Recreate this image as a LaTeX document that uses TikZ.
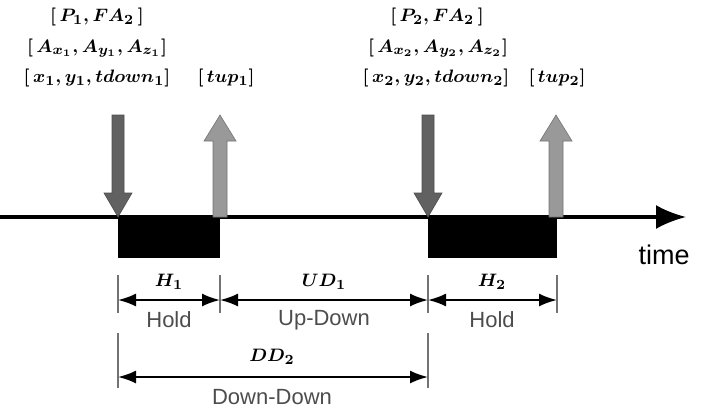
\documentclass[tikz,border=0pt]{standalone}
\usepackage{fontspec}
\setmainfont{Liberation Sans}
\usetikzlibrary{arrows.meta}
\begin{document}
\begin{tikzpicture}[x=0.5pt,y=-0.5pt,
  lbl/.style={font=\fontsize{11}{13}\selectfont, text=black!70, inner sep=0pt},
  mlbl/.style={font=\fontsize{9.5}{11}\selectfont\boldmath, inner sep=0pt},
  keybox/.style={fill=black, draw=none},
  dnarrow/.style={fill=black!62, draw=black!70, line width=0.3pt},
  uparrow/.style={fill=black!40, draw=black!55, line width=0.3pt},
  tick/.style={draw=black!55, line width=1pt},
  dim/.style={line width=1pt, {Latex[length=9pt,width=6.5pt]}-{Latex[length=9pt,width=6.5pt]}}
]
\useasboundingbox (0,0) rectangle (705,412);
% time axis
\coordinate (ax0) at (0,217);
\coordinate (ax1) at (686,217);
\draw[line width=1.6pt, -{Latex[length=15pt,width=12pt]}] (ax0) -- (ax1);
\node[lbl, font=\fontsize{13.5}{15}\selectfont, text=black, anchor=center] (time) at (664,255) {time};
% key boxes
\node[keybox, minimum width=51pt, minimum height=20.5pt, inner sep=0pt, anchor=north west] (k1) at (118,217) {};
\node[keybox, minimum width=64.5pt, minimum height=20.5pt, inner sep=0pt, anchor=north west] (k2) at (428,217) {};
% down arrows
\foreach \cx in {118,428}{
  \draw[dnarrow] (\cx-6,115) -- (\cx+6,115) -- (\cx+6,193) -- (\cx+14,193) -- (\cx,217) -- (\cx-14,193) -- (\cx-6,193) -- cycle;
}
% up arrows
\foreach \cx in {220,556}{
  \draw[uparrow] (\cx-7,217) -- (\cx+7,217) -- (\cx+7,141) -- (\cx+16,141) -- (\cx,115) -- (\cx-16,141) -- (\cx-7,141) -- cycle;
}
% top labels
\node[mlbl] (l1a) at (97,17) {$\left[\,P_1, FA_2\,\right]$};
\node[mlbl] (l1b) at (97,48) {$\left[\,A_{x_1}, A_{y_1}, A_{z_1}\right]$};
\node[mlbl] (l1c) at (97,78) {$\left[\,x_1, y_1, tdown_1\right]$};
\node[mlbl] (t1) at (226,78) {$\left[\,tup_1\right]$};
\node[mlbl] (l2a) at (437,17) {$\left[\,P_2, FA_2\,\right]$};
\node[mlbl] (l2b) at (438,48) {$\left[\,A_{x_2}, A_{y_2}, A_{z_2}\right]$};
\node[mlbl] (l2c) at (436,78) {$\left[\,x_2, y_2, tdown_2\right]$};
\node[mlbl] (t2) at (557,78) {$\left[\,tup_2\right]$};
% dimension ticks
\coordinate (a1) at (118,275); \coordinate (a2) at (118,313);
\coordinate (b1) at (220,275); \coordinate (b2) at (220,313);
\coordinate (c1) at (428,275); \coordinate (c2) at (428,313);
\coordinate (d1) at (557,275); \coordinate (d2) at (557,313);
\draw[tick] (a1) -- (a2); \draw[tick] (b1) -- (b2);
\draw[tick] (c1) -- (c2); \draw[tick] (d1) -- (d2);
\coordinate (e1) at (118,333); \coordinate (e2) at (118,388);
\coordinate (f1) at (428,333); \coordinate (f2) at (428,388);
\draw[tick] (e1) -- (e2); \draw[tick] (f1) -- (f2);
% dimension arrows
\coordinate (pa) at (118,300); \coordinate (pb) at (220,300);
\coordinate (pc) at (428,300); \coordinate (pd) at (557,300);
\coordinate (pe) at (118,377); \coordinate (pf) at (428,377);
\draw[dim] (pa) -- (pb);
\draw[dim] (pb) -- (pc);
\draw[dim] (pc) -- (pd);
\draw[dim] (pe) -- (pf);
% dimension labels
\node[mlbl] (h1) at (169,282) {$H_1$};
\node[mlbl] (ud) at (324,282) {$UD_1$};
\node[mlbl] (h2) at (492,282) {$H_2$};
\node[lbl] (hold1) at (169,320) {Hold};
\node[lbl] (updown) at (324,320) {Up-Down};
\node[lbl] (hold2) at (492,320) {Hold};
\node[mlbl] (dd) at (272,357) {$DD_2$};
\node[lbl] (dndn) at (272,397) {Down-Down};
\end{tikzpicture}
\end{document}
